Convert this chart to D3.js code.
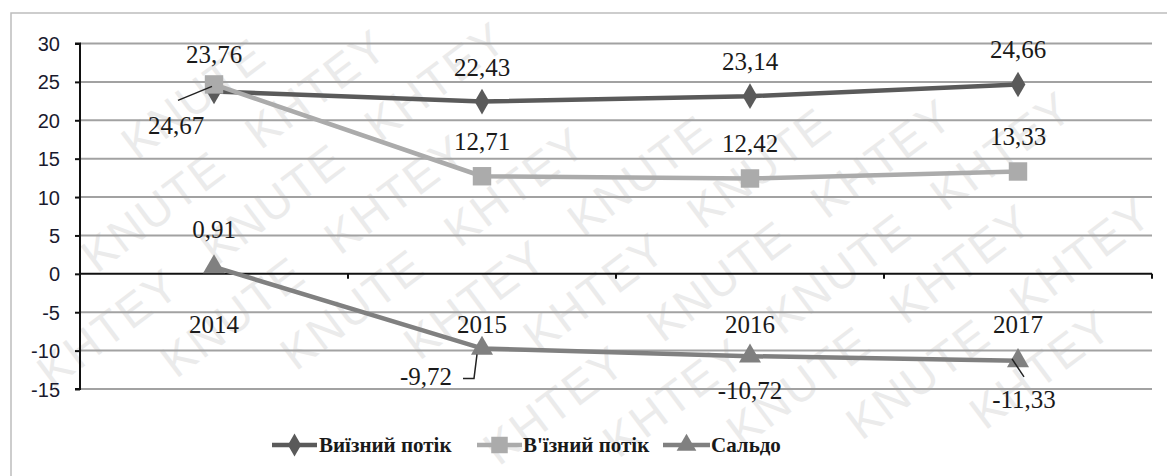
<!DOCTYPE html>
<html>
<head>
<meta charset="utf-8">
<script src="https://cdn.jsdelivr.net/npm/d3@7"></script>
<style>
  html, body { margin: 0; padding: 0; background: #fff; }
  svg { display: block; }
  .serif { font-family: "Liberation Serif", "Times New Roman", serif; }
</style>
</head>
<body>
<svg id="chart" width="1167" height="476"></svg>
<script>
// ---- data ----
const years = ["2014", "2015", "2016", "2017"];
const outbound = [23.76, 22.43, 23.14, 24.66];   // Виїзний потік
const inbound  = [24.67, 12.71, 12.42, 13.33];   // В'їзний потік
const balance  = [0.91, -9.72, -10.72, -11.33];  // Сальдо
const seriesNames = ["Виїзний потік", "В'їзний потік", "Сальдо"];
const yTicks = [30, 25, 20, 15, 10, 5, 0, -5, -10, -15];
const watermarkWords = ["KNUTE", "KHTEY"];

(function () {
// ---- layout / style ----
const plotL = 80, plotR = 1152, plotT = 43.5, plotB = 389;
const colors = ["#5a5a5a", "#ababab", "#808080"];
const svg = d3.select("#chart");
const W = 1167, H = 476;

// watermark: individual words, only those fully inside the picture
const wm = svg.append("g").attr("class", "watermark");
const ang = -37, rad = ang * Math.PI / 180;
const step = 205, rowGap = 66;
for (let r = -12; r <= 12; r++) {
  for (let k = -12; k <= 12; k++) {
    const lx = k * step + ((r % 2 + 2) % 2) * 100;
    const lyy = r * rowGap;
    const sx = 583 + lx * Math.cos(rad) - lyy * Math.sin(rad);
    const sy = 238 + lx * Math.sin(rad) + lyy * Math.cos(rad);
    const t = wm.append("text")
      .attr("transform", `translate(${sx},${sy}) rotate(${ang})`)
      .attr("font-family", "Liberation Sans, Arial, sans-serif")
      .attr("font-size", 46)
      .attr("fill", "#ebebeb")
      .attr("letter-spacing", 2)
      .text(watermarkWords[((k + 100) % 2)]);
    const b = t.node().getBoundingClientRect();
    if (b.left < 1 || b.top < 1 || b.right > W - 1 || b.bottom > H - 1) t.remove();
  }
}

// outer border
svg.append("rect").attr("x", 11).attr("y", 13).attr("width", 1170).attr("height", 480)
  .attr("fill", "none").attr("stroke", "#bdbdbd").attr("stroke-width", 1.5);

const x = d3.scaleBand().domain(years).range([plotL, plotR]);
const y = d3.scaleLinear().domain([-15, 30]).range([plotB, plotT]);
const cx = d => x(d) + x.bandwidth() / 2;
const hy = s => String(s).replace("\u2212", "-");

// gridlines
svg.append("g").selectAll("line").data(yTicks.filter(t => t !== 0)).join("line")
  .attr("x1", plotL).attr("x2", plotR)
  .attr("y1", d => y(d)).attr("y2", d => y(d))
  .attr("stroke", "#a2a2a2").attr("stroke-width", 2);

// y axis
const yAxis = d3.axisLeft(y).tickValues(yTicks).tickSize(5).tickFormat(d => hy(d3.format("d")(d)));
const gy = svg.append("g").attr("transform", `translate(${plotL},0)`).call(yAxis);
gy.select(".domain").attr("stroke", "#111").attr("stroke-width", 2)
  .attr("d", `M-5,${plotT}H0V${plotB}H-5`);
gy.selectAll(".tick line").attr("stroke", "#111").attr("stroke-width", 2);
gy.selectAll(".tick text")
  .attr("x", -20).attr("dy", "0.35em")
  .attr("font-family", "Liberation Sans, Arial, sans-serif")
  .attr("font-size", 20).attr("fill", "#1a1a2e");

// x axis at zero
const xAxis = d3.axisBottom(x).tickSize(0).tickPadding(0);
const gx = svg.append("g").attr("transform", `translate(0,${y(0)})`).call(xAxis);
gx.attr("font-family", null);
gx.select(".domain").attr("stroke", "#111").attr("stroke-width", 2)
  .attr("d", `M${plotL},0H${plotR}`);
gx.selectAll(".tick text")
  .attr("y", 41).attr("class", "serif")
  .attr("font-size", 25).attr("fill", "#1a1a1a");
// boundary minor ticks
svg.append("g").selectAll("line").data(years.slice(1).concat(["end"])).join("line")
  .attr("x1", d => d === "end" ? plotR : x(d)).attr("x2", d => d === "end" ? plotR : x(d))
  .attr("y1", y(0)).attr("y2", y(0) + 5)
  .attr("stroke", "#111").attr("stroke-width", 2);

// series
const allSeries = [outbound, inbound, balance];
const line = d3.line().x((d, i) => cx(years[i])).y(d => y(d));
const symbols = [d3.symbolDiamond, d3.symbolSquare, d3.symbolTriangle];
const symSizes = [190, 340, 210];

allSeries.forEach((vals, si) => {
  svg.append("path").datum(vals)
    .attr("d", line).attr("fill", "none")
    .attr("stroke", colors[si]).attr("stroke-width", 4.5)
    .attr("stroke-linejoin", "round");
});
allSeries.forEach((vals, si) => {
  svg.append("g").selectAll("path").data(vals).join("path")
    .attr("transform", (d, i) => `translate(${cx(years[i])},${y(d)})`)
    .attr("d", d3.symbol().type(symbols[si]).size(symSizes[si]))
    .attr("fill", colors[si]);
});

// data labels: offsets [dx, dy] relative to marker (baseline)
const labelOffsets = [
  [[0, -28], [0, -26], [0, -26], [0, -26]],
  [[-38, 50], [0, -26], [0, -26], [0, -26]],
  [[0, -29], [-56, 37], [0, 43], [6, 47]]
];
const leaders = [
  [null, null, null, null],
  [[-36, 16, -2, 2], null, null, null],
  [null, [-19, 30, -8, 30, -5, 6], null, [-6, -2, 6, 16]]
];
const fmt = v => hy(d3.format(".2f")(v)).replace(".", ",");
allSeries.forEach((vals, si) => {
  vals.forEach((v, i) => {
    const px = cx(years[i]), py = y(v);
    const lo = leaders[si][i];
    if (lo) {
      let pts = [];
      for (let k = 0; k < lo.length; k += 2) pts.push([px + lo[k], py + lo[k + 1]]);
      svg.append("path").attr("d", d3.line()(pts))
        .attr("fill", "none").attr("stroke", "#222").attr("stroke-width", 1.5);
    }
    svg.append("text")
      .attr("x", px + labelOffsets[si][i][0])
      .attr("y", py + labelOffsets[si][i][1])
      .attr("text-anchor", "middle")
      .attr("class", "serif")
      .attr("font-size", 25).attr("fill", "#1a1a1a")
      .text(fmt(v));
  });
});

// legend
const legendItems = [
  { x0: 272, x1: 317, tx: 319 },
  { x0: 477, x1: 522, tx: 523 },
  { x0: 663, x1: 710, tx: 711 }
];
const ly = 445;
const lg = svg.append("g");
legendItems.forEach((it, si) => {
  lg.append("line").attr("x1", it.x0).attr("x2", it.x1).attr("y1", ly).attr("y2", ly)
    .attr("stroke", colors[si]).attr("stroke-width", 4.5);
  lg.append("path").attr("transform", `translate(${(it.x0 + it.x1) / 2},${ly})`)
    .attr("d", d3.symbol().type(symbols[si]).size(symSizes[si] * 0.8))
    .attr("fill", colors[si]);
  lg.append("text").attr("x", it.tx).attr("y", ly).attr("dy", "0.35em")
    .attr("class", "serif")
    .attr("font-size", 21).attr("font-weight", "bold").attr("fill", "#1a1a1a")
    .text(seriesNames[si]);
});
})();
</script>
</body>
</html>
